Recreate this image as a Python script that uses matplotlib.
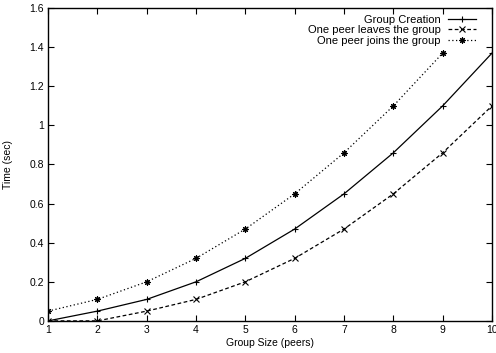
import matplotlib
matplotlib.use('Agg')
import matplotlib.pyplot as plt

plt.rcParams['font.family'] = ['Liberation Sans', 'DejaVu Sans']

# data
group_size = [1, 2, 3, 4, 5, 6, 7, 8, 9, 10]
creation = [0.0, 0.05, 0.11, 0.20, 0.32, 0.47, 0.65, 0.86, 1.10, 1.37]
leave_x = [1, 2, 3, 4, 5, 6, 7, 8, 9, 10]
leave = [0.0, 0.0, 0.05, 0.11, 0.20, 0.32, 0.47, 0.65, 0.86, 1.10]
join_x = [1, 2, 3, 4, 5, 6, 7, 8, 9]
join = [0.05, 0.11, 0.20, 0.32, 0.47, 0.65, 0.86, 1.10, 1.37]

y_ticks = [0, 0.2, 0.4, 0.6, 0.8, 1.0, 1.2, 1.4, 1.6]
y_labels = ['0', '0.2', '0.4', '0.6', '0.8', '1', '1.2', '1.4', '1.6']

fig = plt.figure(figsize=(4.96, 3.53), dpi=100)
fig.patch.set_facecolor('white')
ax = fig.add_axes([0.097, 0.091, 0.895, 0.886])

ax.plot(group_size, creation, color='black', linestyle='-', linewidth=0.9,
        marker='+', markersize=5, markeredgewidth=0.8, label='Group Creation')
ax.plot(leave_x, leave, color='black', linestyle=(0, (3, 2)), linewidth=0.9,
        marker='x', markersize=4, markeredgewidth=0.8, label='One peer leaves the group')
ax.plot(join_x, join, color='black', linestyle=(0, (1, 2)), linewidth=0.9,
        marker=(8, 2, 0), markersize=4.5, markeredgewidth=0.8, label='One peer joins the group')

ax.set_xlim(1, 10)
ax.set_ylim(0, 1.6)
ax.set_xticks(group_size)
ax.set_yticks(y_ticks)
ax.set_yticklabels(y_labels)
ax.tick_params(direction='in', top=True, right=True, length=4, width=0.8,
               labelsize=7.5, pad=3)
for s in ax.spines.values():
    s.set_linewidth(1.0)

ax.set_xlabel('Group Size (peers)', fontsize=7.5, labelpad=2)
ax.set_ylabel('Time (sec)', fontsize=7.5, labelpad=12)

ax.legend(loc='upper right', bbox_to_anchor=(0.975, 0.993), frameon=False,
          fontsize=8, markerfirst=False, handlelength=2.6, handletextpad=0.6,
          labelspacing=0.05, borderaxespad=0.0)

plt.savefig('out.png', dpi=100)
